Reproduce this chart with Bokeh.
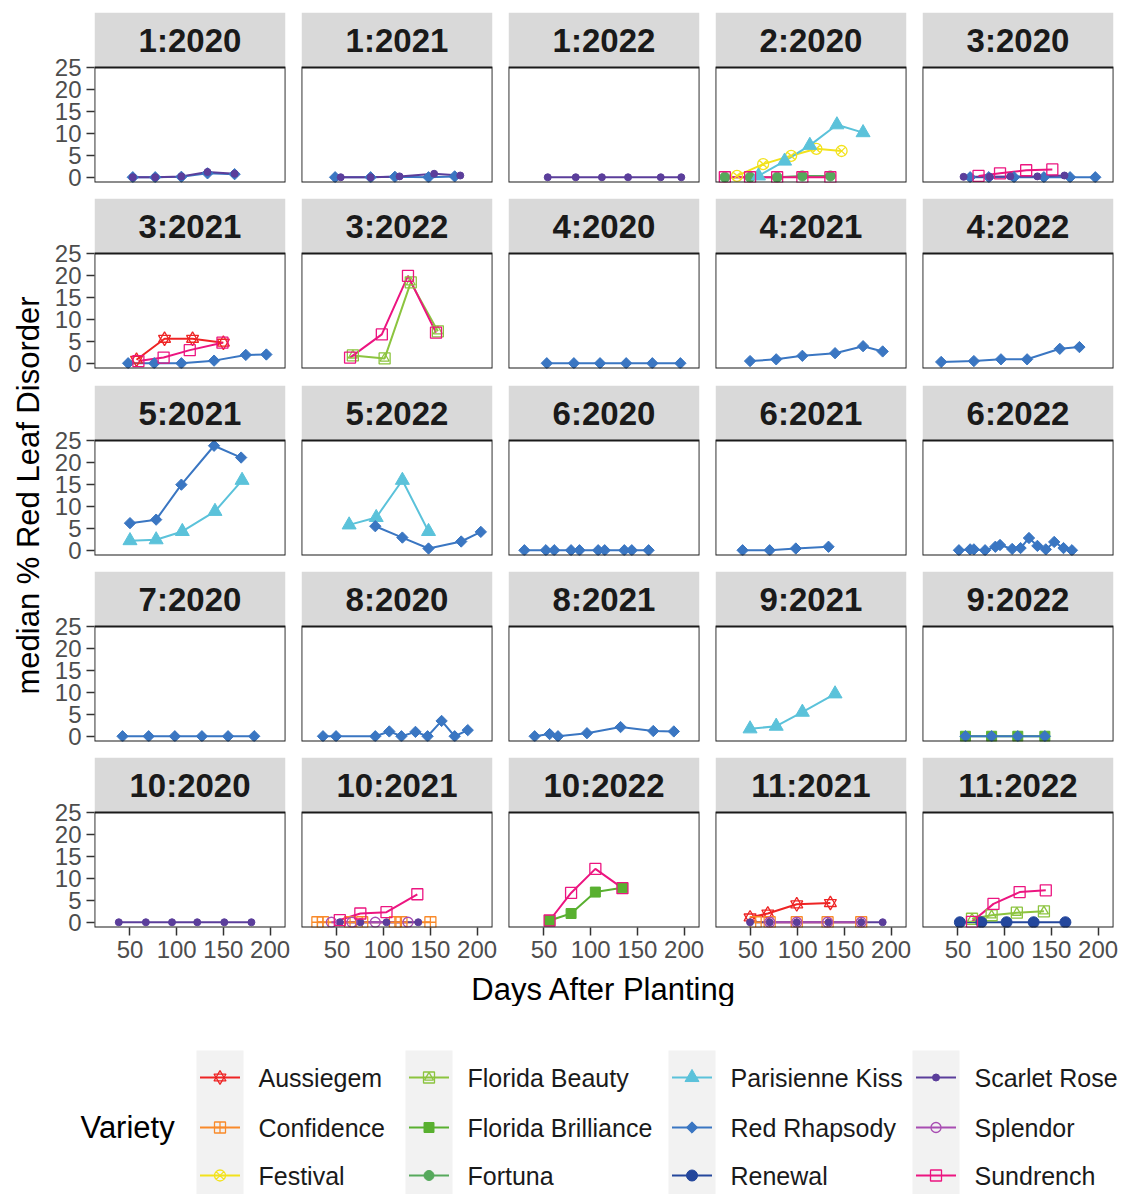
import numpy as np
from bokeh.plotting import figure
from bokeh.layouts import column, row
from bokeh.models import Range1d, FixedTicker, Label, BoxAnnotation
from bokeh.embed import file_html
from bokeh.resources import INLINE
from bokeh.core.properties import value

FONT = "Liberation Sans"

# ---------------- data ----------------
VARIETIES = ["Aussiegem", "Confidence", "Festival", "Florida Beauty", "Florida Brilliance",
             "Fortuna", "Parisienne Kiss", "Red Rhapsody", "Renewal", "Scarlet Rose",
             "Splendor", "Sundrench"]

X_TICKS = [50, 100, 150, 200]
Y_TICKS = [0, 5, 10, 15, 20, 25]
X_LIMITS = (12.0, 216.5)
Y_LIMITS = (-1.2, 25.1)

D_1_2020 = {
    "Red Rhapsody": ([53, 77, 105, 133, 162], [0.0, 0.0, 0.1, 0.9, 0.7]),
    "Scarlet Rose": ([53, 77, 105, 133, 162], [0.0, 0.0, 0.2, 1.2, 0.8]),
}
D_1_2021 = {
    "Red Rhapsody": ([48, 86, 112, 148, 176], [0.0, 0.0, 0.1, 0.0, 0.2]),
    "Scarlet Rose": ([54, 86, 117, 154, 182], [0.0, 0.0, 0.2, 0.8, 0.4]),
}
D_1_2022 = {
    "Scarlet Rose": ([54, 84, 112, 140, 175, 197], [0.0, 0.0, 0.0, 0.0, 0.0, 0.0]),
}
D_2_2020 = {
    "Festival": ([35, 63, 93, 120, 147], [0.3, 3.0, 4.9, 6.5, 6.0]),
    "Fortuna": ([22, 49, 78, 105, 135], [0.0, 0.0, 0.0, 0.3, 0.3]),
    "Parisienne Kiss": ([58, 86, 113, 142, 170], [0.3, 3.7, 7.3, 12.0, 10.2]),
    "Sundrench": ([22, 49, 78, 105, 135], [0.0, 0.0, 0.0, 0.0, 0.0]),
}
D_3_2020 = {
    "Red Rhapsody": ([63, 83, 110, 142, 170, 197], [0.0, 0.0, 0.0, 0.0, 0.0, 0.0]),
    "Scarlet Rose": ([56, 84, 106, 135, 164], [0.1, 0.1, 0.2, 0.2, 0.4]),
    "Sundrench": ([72, 95, 123, 151], [0.3, 0.9, 1.6, 1.8]),
}
D_3_2021 = {
    "Aussiegem": ([57, 87, 117, 150], [0.8, 5.6, 5.6, 4.7]),
    "Red Rhapsody": ([48, 76, 105, 140, 174, 196], [0.0, 0.0, 0.0, 0.6, 1.9, 2.0]),
    "Sundrench": ([59, 86, 114, 149], [0.5, 1.3, 3.0, 4.7]),
}
D_3_2022 = {
    "Florida Beauty": ([67, 101, 129, 158], [1.8, 1.1, 18.5, 7.3]),
    "Sundrench": ([64, 98, 126, 156], [1.3, 6.6, 20.0, 7.0]),
}
D_4_2020 = {
    "Red Rhapsody": ([53, 82, 110, 138, 166, 196], [0.0, 0.0, 0.0, 0.0, 0.0, 0.0]),
}
D_4_2021 = {
    "Red Rhapsody": ([49, 77, 105, 140, 170, 191], [0.5, 0.9, 1.7, 2.3, 3.9, 2.7]),
}
D_4_2022 = {
    "Red Rhapsody": ([32, 67, 96, 124, 159, 180], [0.3, 0.5, 0.9, 0.9, 3.3, 3.7]),
}
D_5_2021 = {
    "Parisienne Kiss": ([50, 78, 106, 141, 170], [2.2, 2.4, 4.3, 8.9, 16.0]),
    "Red Rhapsody": ([50, 78, 105, 140, 169], [6.2, 7.0, 15.0, 23.9, 21.2]),
}
D_5_2022 = {
    "Parisienne Kiss": ([63, 92, 120, 148], [5.8, 7.5, 16.0, 4.3]),
    "Red Rhapsody": ([91, 120, 148, 183, 204], [5.5, 2.9, 0.4, 2.0, 4.2]),
}
D_6_2020 = {
    "Red Rhapsody": ([29, 52, 61, 79, 88, 108, 115, 136, 144, 162],
                     [0.0, 0.0, 0.0, 0.0, 0.0, 0.0, 0.0, 0.0, 0.0, 0.0]),
}
D_6_2021 = {
    "Red Rhapsody": ([41, 70, 98, 133], [0.0, 0.0, 0.4, 0.8]),
}
D_6_2022 = {
    "Red Rhapsody": ([51, 63, 67, 79, 90, 95, 108, 117, 126, 135, 144, 153, 163, 172],
                     [0.0, 0.2, 0.2, 0.0, 0.8, 1.2, 0.3, 0.5, 2.8, 1.0, 0.2, 1.9, 0.5, 0.0]),
}
D_7_2020 = {
    "Red Rhapsody": ([42, 70, 98, 127, 155, 183], [0.0, 0.0, 0.0, 0.0, 0.0, 0.0]),
}
D_8_2020 = {
    "Red Rhapsody": ([35, 49, 91, 106, 119, 134, 147, 162, 176, 190],
                     [0.0, 0.0, 0.0, 1.1, 0.0, 1.0, 0.0, 3.5, 0.0, 1.4]),
}
D_8_2021 = {
    "Red Rhapsody": ([40, 56, 65, 96, 132, 167, 189], [0.0, 0.5, 0.0, 0.7, 2.1, 1.2, 1.1]),
}
D_9_2021 = {
    "Parisienne Kiss": ([49, 77, 105, 140], [1.7, 2.3, 5.5, 9.7]),
}
D_9_2022 = {
    "Florida Brilliance": ([58, 86, 114, 143], [0.0, 0.0, 0.0, 0.0]),
    "Red Rhapsody": ([58, 86, 114, 143], [0.0, 0.0, 0.0, 0.0]),
}
D_10_2020 = {
    "Scarlet Rose": ([38, 67, 95, 122, 151, 180], [0.0, 0.0, 0.0, 0.0, 0.0, 0.0]),
}
D_10_2021 = {
    "Confidence": ([29, 35, 64, 77, 112, 119, 150], [0.0, 0.0, 0.0, 0.0, 0.0, 0.0, 0.0]),
    "Scarlet Rose": ([53, 75, 103, 137], [0.0, 0.0, 0.0, 0.0]),
    "Splendor": ([44, 66, 91, 126], [0.0, 0.0, 0.0, 0.0]),
    "Sundrench": ([53, 75, 103, 136], [0.5, 2.0, 2.3, 6.4]),
}
D_10_2022 = {
    "Florida Brilliance": ([56, 79, 105, 134], [0.4, 2.0, 6.9, 7.9]),
    "Sundrench": ([56, 79, 105, 134], [0.4, 6.7, 12.2, 7.8]),
}
D_11_2021 = {
    "Aussiegem": ([49, 68, 99, 135], [1.1, 2.0, 4.1, 4.4]),
    "Confidence": ([55, 70, 99, 132, 168], [0.0, 0.0, 0.0, 0.0, 0.0]),
    "Scarlet Rose": ([49, 70, 99, 133, 168, 191], [0.0, 0.0, 0.0, 0.0, 0.0, 0.0]),
    "Splendor": ([70, 99, 132, 168], [0.0, 0.0, 0.0, 0.0]),
}
D_11_2022 = {
    "Florida Beauty": ([65, 86, 113, 142], [0.8, 1.6, 2.2, 2.5]),
    "Renewal": ([52, 75, 102, 131, 165], [0.0, 0.0, 0.0, 0.0, 0.0]),
    "Sundrench": ([65, 88, 116, 144], [0.1, 4.2, 6.9, 7.3]),
}

PANELS = [
    ("1:2020", D_1_2020), ("1:2021", D_1_2021), ("1:2022", D_1_2022), ("2:2020", D_2_2020),
    ("3:2020", D_3_2020), ("3:2021", D_3_2021), ("3:2022", D_3_2022), ("4:2020", D_4_2020),
    ("4:2021", D_4_2021), ("4:2022", D_4_2022), ("5:2021", D_5_2021), ("5:2022", D_5_2022),
    ("6:2020", D_6_2020), ("6:2021", D_6_2021), ("6:2022", D_6_2022), ("7:2020", D_7_2020),
    ("8:2020", D_8_2020), ("8:2021", D_8_2021), ("9:2021", D_9_2021), ("9:2022", D_9_2022),
    ("10:2020", D_10_2020), ("10:2021", D_10_2021), ("10:2022", D_10_2022),
    ("11:2021", D_11_2021), ("11:2022", D_11_2022),
]

# ---------------- styles ----------------
COLORS = {
    "Aussiegem": "#EE2424",
    "Confidence": "#F98A2A",
    "Festival": "#F2E21C",
    "Florida Beauty": "#8CC43F",
    "Florida Brilliance": "#59B030",
    "Fortuna": "#56A95C",
    "Parisienne Kiss": "#5BC2DA",
    "Red Rhapsody": "#3A76C2",
    "Renewal": "#24479C",
    "Scarlet Rose": "#5B3E9B",
    "Splendor": "#A84DB2",
    "Sundrench": "#EC1580",
}
# (marker, size, filled, angle)
SHAPES = {
    "Aussiegem": [("triangle", 12, False, 0.0), ("inverted_triangle", 12, False, 0.0)],
    "Confidence": [("square_cross", 11, False, 0.0)],
    "Festival": [("circle_x", 11, False, 0.0)],
    "Florida Beauty": [("square", 11, False, 0.0), ("triangle", 9, False, 0.0)],
    "Florida Brilliance": [("square", 10, True, 0.0)],
    "Fortuna": [("circle", 10, True, 0.0)],
    "Parisienne Kiss": [("triangle", 14, True, 0.0)],
    "Red Rhapsody": [("square", 8, True, np.pi / 4)],
    "Renewal": [("circle", 11, True, 0.0)],
    "Scarlet Rose": [("circle", 7, True, 0.0)],
    "Splendor": [("circle", 10, False, 0.0)],
    "Sundrench": [("square", 11, False, 0.0)],
}


def draw_points(p, variety, xs, ys):
    col = COLORS[variety]
    for marker, size, filled, ang in SHAPES[variety]:
        p.scatter(xs, ys, marker=marker, size=size, angle=ang,
                  fill_color=col if filled else None,
                  line_color=col, line_width=1.3 if not filled else 1.0)


# ---------------- layout constants ----------------
FRAME_W = 191
PANEL_H = 115
STRIP_H = 55
TOP0 = 12
ROW_BOTTOM = [16, 17, 16, 16, 44]   # gap under each row (last: x axis)
YLAB_W = 48
LEFT0 = 46
SIDE = 8
GRID_H = TOP0 + 5 * (PANEL_H + STRIP_H) + sum(ROW_BOTTOM)
PAGE_W = 1121


def style_axis(ax):
    ax.axis_line_color = None
    ax.major_tick_line_color = "#333333"
    ax.major_tick_line_width = 1.5
    ax.major_tick_out = 8
    ax.major_tick_in = 0
    ax.minor_tick_line_color = None
    ax.major_label_text_font = FONT
    ax.major_label_text_font_size = "24px"
    ax.major_label_text_color = "#4D4D4D"
    ax.major_label_standoff = 5


def make_cell(r, c, label, data):
    yspan = Y_LIMITS[1] - Y_LIMITS[0]
    ytop = Y_LIMITS[1] + yspan * STRIP_H / PANEL_H
    p = figure(frame_width=FRAME_W, frame_height=PANEL_H + STRIP_H,
               x_range=Range1d(*X_LIMITS), y_range=Range1d(Y_LIMITS[0], ytop),
               x_axis_location="below" if r == 4 else None,
               y_axis_location="left" if c == 0 else None,
               toolbar_location=None, output_backend="svg", title=None,
               min_border_left=LEFT0 if c == 0 else SIDE, min_border_right=SIDE,
               min_border_top=TOP0 if r == 0 else 0, min_border_bottom=ROW_BOTTOM[r])
    p.outline_line_color = None
    p.background_fill_color = "white"
    p.border_fill_color = "white"
    p.grid.visible = False
    if r == 4:
        p.xaxis.ticker = FixedTicker(ticks=X_TICKS)
        style_axis(p.xaxis[0])
    if c == 0:
        p.yaxis.ticker = FixedTicker(ticks=Y_TICKS)
        style_axis(p.yaxis[0])

    # strip
    p.add_layout(BoxAnnotation(left=X_LIMITS[0], right=X_LIMITS[1], bottom=Y_LIMITS[1], top=ytop,
                               fill_color="#D9D9D9", fill_alpha=1.0, line_color=None))
    p.add_layout(Label(x=(X_LIMITS[0] + X_LIMITS[1]) / 2, y=(Y_LIMITS[1] + ytop) / 2, text=label,
                       text_align="center", text_baseline="middle", text_font=FONT,
                       text_font_style="bold", text_font_size="33px", text_color="#1A1A1A"))

    order = [v for v in VARIETIES if v in data]
    for v in order:
        xs, ys = data[v]
        p.line(xs, ys, line_color=COLORS[v], line_width=2)
    for v in order:
        xs, ys = data[v]
        draw_points(p, v, xs, ys)

    # panel border
    p.add_layout(BoxAnnotation(left=X_LIMITS[0], right=X_LIMITS[1], bottom=Y_LIMITS[0], top=Y_LIMITS[1],
                               fill_color=None, fill_alpha=0.0, line_color="#1A1A1A",
                               line_alpha=1.0, line_width=1.8))
    return p


def blank(w, h, xr, yr):
    f = figure(width=w, height=h, x_range=Range1d(*xr), y_range=Range1d(*yr),
               x_axis_location=None, y_axis_location=None, toolbar_location=None,
               output_backend="svg", title=None, min_border=0)
    f.outline_line_color = None
    f.grid.visible = False
    f.background_fill_color = "white"
    f.border_fill_color = "white"
    return f


rows = []
for r in range(5):
    cells = [make_cell(r, c, *PANELS[r * 5 + c]) for c in range(5)]
    rows.append(row(*cells, spacing=0))
grid = column(*rows, spacing=0)

# y axis title
ylab = blank(YLAB_W, GRID_H, (0, YLAB_W), (0, GRID_H))
ylab.add_layout(Label(x=28, y=GRID_H - 495, text="median % Red Leaf Disorder", angle=np.pi / 2,
                      text_align="center", text_baseline="middle", text_font=FONT,
                      text_font_size="31px", text_color="black"))

# x axis title
XLAB_H = 35
xlab = blank(PAGE_W, XLAB_H, (0, PAGE_W), (0, XLAB_H))
xlab.add_layout(Label(x=YLAB_W + LEFT0 + (5 * FRAME_W + 4 * 2 * SIDE) / 2, y=XLAB_H / 2,
                      text="Days After Planting", text_align="center", text_baseline="middle",
                      text_font=FONT, text_font_size="31px", text_color="black"))

# legend
LEG_TOP = GRID_H + XLAB_H
LEG_H = 1194 - LEG_TOP
leg = blank(PAGE_W, LEG_H, (0, PAGE_W), (0, LEG_H))
KEY_LEFT = [196, 405, 668, 912]
KEY_W = 47
ROW_Y = [1077, 1127, 1175]
KEY_TOP = 1050


def ly(page_y):
    return LEG_H - (page_y - LEG_TOP)


leg.quad(left=KEY_LEFT, right=[k + KEY_W for k in KEY_LEFT], top=[ly(KEY_TOP)] * 4,
         bottom=[0] * 4, fill_color="#F2F2F2", line_color=None)
leg.add_layout(Label(x=80, y=ly(1127), text="Variety", text_align="left", text_baseline="middle",
                     text_font=FONT, text_font_size="31px", text_color="black"))
lab_x, lab_y = [], []
for i, v in enumerate(VARIETIES):
    cidx, ridx = divmod(i, 3)
    cx = KEY_LEFT[cidx] + KEY_W / 2
    cy = ly(ROW_Y[ridx])
    leg.line([cx - 20, cx + 20], [cy, cy], line_color=COLORS[v], line_width=2)
    draw_points(leg, v, [cx], [cy])
    lab_x.append(KEY_LEFT[cidx] + 62)
    lab_y.append(cy)
leg.text(x=lab_x, y=lab_y, text=VARIETIES, text_font=value(FONT), text_font_size=value("25px"),
         text_align="left", text_baseline="middle", text_color="#1A1A1A")

layout = column(row(ylab, grid, spacing=0), xlab, leg, spacing=0)

open("out.html", "w").write(file_html(layout, INLINE))
